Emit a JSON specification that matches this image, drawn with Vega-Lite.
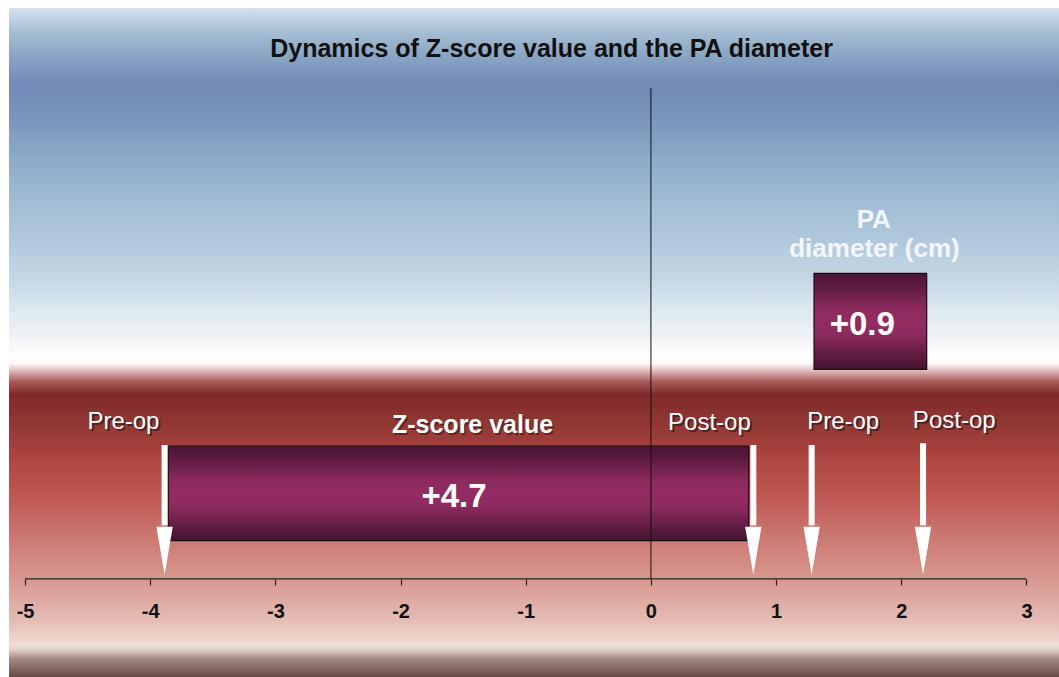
{
  "$schema": "https://vega.github.io/schema/vega-lite/v6.json",
  "width": 1059,
  "height": 677,
  "autosize": {"type": "fit", "contains": "padding"},
  "padding": 0,
  "background": "#ffffff",
  "config": {"view": {"stroke": null}, "font": "Liberation Sans"},
  "datasets": {
    "bg": [{"x": -5.128, "x2": 3.26, "y": 0, "y2": 98.82}],
    "lines": [
      {"x": -5, "x2": 3, "y": 14.48, "y2": 14.48},
      {"x": 0, "x2": 0, "y": 14.48, "y2": 87.0}
    ],
    "bars": [
      {"measure": "Z-score value", "x": -3.856, "x2": 0.781, "y": 20.13, "y2": 34.12},
      {"measure": "PA diameter (cm)", "x": 1.303, "x2": 2.203, "y": 45.45, "y2": 59.63}
    ],
    "arrows": [
      {"stage": "Pre-op", "measure": "Z-score", "x": -3.885, "y": 34.27, "y2": 22.4, "yh": 18.64},
      {"stage": "Post-op", "measure": "Z-score", "x": 0.818, "y": 34.27, "y2": 22.4, "yh": 18.64},
      {"stage": "Pre-op", "measure": "PA diameter", "x": 1.284, "y": 34.27, "y2": 22.4, "yh": 18.64},
      {"stage": "Post-op", "measure": "PA diameter", "x": 2.174, "y": 34.52, "y2": 22.4, "yh": 18.64}
    ],
    "texts": [
      {"kind": "title", "text": "Dynamics of Z-score value and the PA diameter", "x": -0.794, "y": 91.63},
      {"kind": "heading", "text": "Z-score value", "x": -1.425, "y": 36.04},
      {"kind": "value", "text": "+4.7", "x": -1.573, "y": 25.11},
      {"kind": "value", "text": "+0.9", "x": 1.688, "y": 50.52},
      {"kind": "pa", "text": "PA", "x": 1.78, "y": 66.32},
      {"kind": "pa", "text": "diameter (cm)", "x": 1.786, "y": 62.08},
      {"kind": "stage", "text": "Pre-op", "x": -4.214, "y": 36.63},
      {"kind": "stage", "text": "Post-op", "x": 0.467, "y": 36.48},
      {"kind": "stage", "text": "Pre-op", "x": 1.536, "y": 36.58},
      {"kind": "stage", "text": "Post-op", "x": 2.423, "y": 36.73}
    ]
  },
  "encoding": {
    "x": {
      "field": "x", "type": "quantitative",
      "scale": {"domain": [-5.2, 3.26], "nice": false, "zero": false},
      "axis": {
        "values": [-5, -4, -3, -2, -1, 0, 1, 2, 3],
        "labelExpr": "datum.value < 0 ? '-' + abs(datum.value) : '' + datum.value",
        "domain": false, "grid": false, "title": null, "zindex": 2,
        "ticks": true, "tickColor": "#222222", "tickSize": 6, "tickWidth": 1.2,
        "labelFont": "Liberation Sans", "labelFontSize": 20, "labelFontWeight": "bold",
        "labelColor": "#111111", "labelPadding": 16, "offset": -98, "labelFlush": false
      }
    },
    "y": {
      "field": "y", "type": "quantitative",
      "scale": {"domain": [0, 100], "nice": false, "zero": false},
      "axis": null
    }
  },
  "layer": [
    {
      "data": {"name": "bg"},
      "mark": {
        "type": "rect",
        "color": {
          "gradient": "linear", "x1": 0, "y1": 0, "x2": 0, "y2": 1,
          "stops": [
            {"offset": 0, "color": "#d4e2ef"},
            {"offset": 0.033, "color": "#a8c0d6"},
            {"offset": 0.07, "color": "#8aa6c4"},
            {"offset": 0.115, "color": "#7189b5"},
            {"offset": 0.167, "color": "#7a96bc"},
            {"offset": 0.227, "color": "#8cacc8"},
            {"offset": 0.287, "color": "#a0bcd4"},
            {"offset": 0.347, "color": "#b0c8dc"},
            {"offset": 0.407, "color": "#c6d8e6"},
            {"offset": 0.451, "color": "#dce8f0"},
            {"offset": 0.496, "color": "#f2f5f8"},
            {"offset": 0.523, "color": "#ffffff"},
            {"offset": 0.532, "color": "#fbf6f6"},
            {"offset": 0.544, "color": "#d8b0ae"},
            {"offset": 0.559, "color": "#a85858"},
            {"offset": 0.578, "color": "#7f2a2a"},
            {"offset": 0.616, "color": "#8e3632"},
            {"offset": 0.676, "color": "#ae4642"},
            {"offset": 0.735, "color": "#c05a55"},
            {"offset": 0.795, "color": "#cc7a74"},
            {"offset": 0.855, "color": "#d8988f"},
            {"offset": 0.915, "color": "#e4bcb4"},
            {"offset": 0.952, "color": "#efdcd5"},
            {"offset": 0.96, "color": "#e0ccc5"},
            {"offset": 0.972, "color": "#a68a84"},
            {"offset": 1, "color": "#6a4a44"}
          ]
        }
      },
      "encoding": {
        "x2": {"field": "x2"},
        "y2": {"field": "y2"}
      }
    },
    {
      "data": {"name": "lines"},
      "transform": [{"filter": "datum.y == datum.y2"}],
      "mark": {"type": "rule", "color": "#222222", "strokeWidth": 1.2},
      "encoding": {"x2": {"field": "x2"}, "y2": {"field": "y2"}}
    },
    {
      "data": {"name": "bars"},
      "mark": {
        "type": "rect",
        "stroke": "#1c0a12", "strokeWidth": 1.2,
        "color": {
          "gradient": "linear", "x1": 0, "y1": 0, "x2": 0, "y2": 1,
          "stops": [
            {"offset": 0, "color": "#4a1633"},
            {"offset": 0.12, "color": "#5a1a3e"},
            {"offset": 0.35, "color": "#8a2a5c"},
            {"offset": 0.5, "color": "#942c63"},
            {"offset": 0.65, "color": "#8a2a5c"},
            {"offset": 0.88, "color": "#5a1a3e"},
            {"offset": 1, "color": "#471430"}
          ]
        }
      },
      "encoding": {"x2": {"field": "x2"}, "y2": {"field": "y2"}}
    },
    {
      "data": {"name": "lines"},
      "transform": [{"filter": "datum.x == datum.x2"}],
      "mark": {"type": "rule", "color": "#111111", "strokeWidth": 1},
      "encoding": {"y2": {"field": "y2"}}
    },
    {
      "data": {"name": "arrows"},
      "mark": {"type": "rule", "color": "#ffffff", "strokeWidth": 6},
      "encoding": {"y2": {"field": "y2"}}
    },
    {
      "data": {"name": "arrows"},
      "mark": {
        "type": "point", "filled": true, "fill": "#ffffff", "opacity": 1,
        "strokeWidth": 0, "size": 2304,
        "shape": "M-0.34,-1L0.34,-1L0,1Z"
      },
      "encoding": {"y": {"field": "yh", "type": "quantitative"}}
    },
    {
      "data": {"name": "texts"},
      "transform": [{"filter": "datum.kind == 'title'"}],
      "mark": {"type": "text", "font": "Liberation Sans", "fontSize": 25, "fontWeight": "bold", "color": "#111111", "align": "center", "baseline": "alphabetic"},
      "encoding": {"text": {"field": "text"}}
    },
    {
      "data": {"name": "texts"},
      "transform": [{"filter": "datum.kind == 'stage'"}],
      "mark": {"type": "text", "font": "Liberation Sans", "fontSize": 24, "color": "#3a1818", "opacity": 0.75, "align": "center", "baseline": "alphabetic", "dx": 2, "dy": 2},
      "encoding": {"text": {"field": "text"}}
    },
    {
      "data": {"name": "texts"},
      "transform": [{"filter": "datum.kind == 'stage'"}],
      "mark": {"type": "text", "font": "Liberation Sans", "fontSize": 24, "color": "#ffffff", "align": "center", "baseline": "alphabetic"},
      "encoding": {"text": {"field": "text"}}
    },
    {
      "data": {"name": "texts"},
      "transform": [{"filter": "datum.kind == 'heading'"}],
      "mark": {"type": "text", "font": "Liberation Sans", "fontSize": 25, "fontWeight": "bold", "color": "#3a1818", "opacity": 0.6, "align": "center", "baseline": "alphabetic", "dx": 1.5, "dy": 1.5},
      "encoding": {"text": {"field": "text"}}
    },
    {
      "data": {"name": "texts"},
      "transform": [{"filter": "datum.kind == 'heading'"}],
      "mark": {"type": "text", "font": "Liberation Sans", "fontSize": 25, "fontWeight": "bold", "color": "#ffffff", "align": "center", "baseline": "alphabetic"},
      "encoding": {"text": {"field": "text"}}
    },
    {
      "data": {"name": "texts"},
      "transform": [{"filter": "datum.kind == 'value'"}],
      "mark": {"type": "text", "font": "Liberation Sans", "fontSize": 33, "fontWeight": "bold", "color": "#ffffff", "align": "center", "baseline": "alphabetic"},
      "encoding": {"text": {"field": "text"}}
    },
    {
      "data": {"name": "texts"},
      "transform": [{"filter": "datum.kind == 'pa'"}],
      "mark": {"type": "text", "font": "Liberation Sans", "fontSize": 26, "fontWeight": "bold", "color": "#f3f6fa", "align": "center", "baseline": "alphabetic"},
      "encoding": {"text": {"field": "text"}}
    }
  ]
}
